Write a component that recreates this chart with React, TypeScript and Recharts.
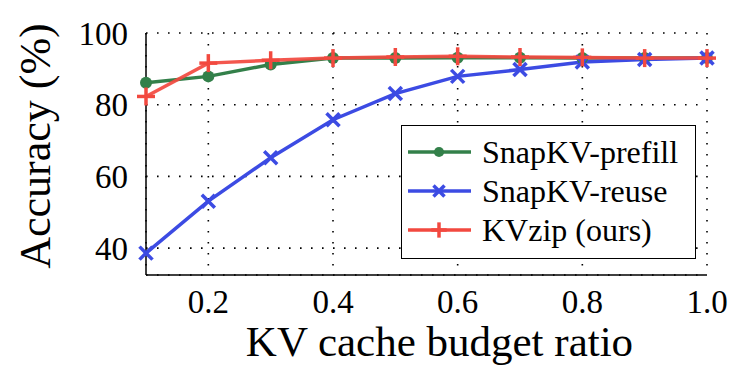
import { CartesianGrid, Line, LineChart, XAxis, YAxis } from 'recharts';

const budget = [0.1, 0.2, 0.3, 0.4, 0.5, 0.6, 0.7, 0.8, 0.9, 1.0];
const prefill = [86.1, 87.9, 91.2, 93.0, 93.0, 93.1, 93.1, 93.0, 93.0, 93.0];
const reuse = [38.6, 53.1, 65.2, 75.8, 83.1, 87.9, 89.8, 91.9, 92.6, 93.0];
const kvzip = [82.3, 91.6, 92.4, 93.0, 93.3, 93.5, 93.3, 93.2, 93.0, 93.0];

const xTicks = [0.2, 0.4, 0.6, 0.8, 1.0];
const xMinorTicks = [0.2, 0.3, 0.4, 0.5, 0.6, 0.7, 0.8, 0.9];
const yTicks = [40, 60, 80, 100];
const yMinorTicks = [40, 60, 80];

const FONT = 'Liberation Serif, Times New Roman, DejaVu Serif, serif';
const GREEN = '#33804a';
const BLUE = '#3c4be3';
const RED = '#f2493f';

const data = budget.map((b, i) => ({ b, prefill: prefill[i], reuse: reuse[i], kvzip: kvzip[i] }));

const series = [
  { key: 'prefill', name: 'SnapKV-prefill', color: GREEN, shape: 'circle' },
  { key: 'reuse', name: 'SnapKV-reuse', color: BLUE, shape: 'cross' },
  { key: 'kvzip', name: 'KVzip (ours)', color: RED, shape: 'plus' },
];

function Marker({ cx, cy, shape, color, s = 1 }: { cx: number; cy: number; shape: string; color: string; s?: number }) {
  if (cx == null || cy == null) return null;
  if (shape === 'circle') return <circle cx={cx} cy={cy} r={6 * s} fill={color} />;
  if (shape === 'cross') {
    const a = 6.5 * s;
    return (
      <g stroke={color} strokeWidth={3.5}>
        <line x1={cx - a} y1={cy - a} x2={cx + a} y2={cy + a} />
        <line x1={cx - a} y1={cy + a} x2={cx + a} y2={cy - a} />
      </g>
    );
  }
  const a = 9 * s;
  return (
    <g stroke={color} strokeWidth={3.5}>
      <line x1={cx - a} y1={cy} x2={cx + a} y2={cy} />
      <line x1={cx} y1={cy - a} x2={cx} y2={cy + a} />
    </g>
  );
}

function LegendBox() {
  return (
    <div
      style={{
        position: 'absolute',
        left: 401,
        top: 125,
        width: 295,
        height: 134,
        border: '1.5px solid #000',
        background: '#fff',
        fontFamily: FONT,
        fontSize: 32,
        boxSizing: 'border-box',
        paddingTop: 6,
      }}
    >
      {series.map((s) => (
        <div key={s.key} style={{ display: 'flex', alignItems: 'center', height: 39 }}>
          <svg width={80} height={30} style={{ flex: 'none' }}>
            <line x1={6} y1={15} x2={69} y2={15} stroke={s.color} strokeWidth={3.5} />
            <Marker cx={37} cy={15} shape={s.shape} color={s.color} s={0.85} />
          </svg>
          <span style={{ color: '#000', lineHeight: 1, fontFamily: FONT }}>{s.name}</span>
        </div>
      ))}
    </div>
  );
}

const noLabel = () => '';

export default function App() {
  return (
    <div style={{ position: 'fixed', left: 0, top: 0, width: 738, height: 370, background: '#fff', fontFamily: FONT }}>
      <LineChart width={738} height={370} data={data} margin={{ top: 33, right: 31, bottom: 0, left: 0 }}>
        <CartesianGrid stroke="#000" strokeWidth={1.6} strokeDasharray="1.6 9.4" />
        <XAxis
          xAxisId="minor"
          dataKey="b"
          type="number"
          domain={[0.1, 1.0]}
          ticks={xMinorTicks}
          tickFormatter={noLabel}
          height={0}
          mirror
          tickSize={6}
          axisLine={false}
          tickLine={{ stroke: '#777', strokeWidth: 1.5 }}
        />
        <XAxis
          dataKey="b"
          type="number"
          domain={[0.1, 1.0]}
          ticks={xTicks}
          tickFormatter={(v) => Number(v).toFixed(1)}
          height={95}
          tickLine={false}
          tickSize={0}
          tickMargin={15}
          axisLine={{ stroke: '#000', strokeWidth: 1.5 }}
          tick={{ fill: '#000', fontSize: 33, fontFamily: FONT }}
          label={{
            content: ({ viewBox }: any) => (
              <text
                x={viewBox.x + viewBox.width / 2 + 13}
                y={viewBox.y + 81}
                textAnchor="middle"
                fontFamily={FONT}
                fontSize={43}
                fill="#000"
              >
                KV cache budget ratio
              </text>
            ),
          }}
        />
        <XAxis xAxisId="top" orientation="top" type="number" domain={[0.1, 1.0]} dataKey="b" tick={false} tickLine={false} height={0} axisLine={{ stroke: '#000', strokeWidth: 1.5 }} />
        <YAxis
          yAxisId="minor"
          type="number"
          domain={[32.5, 100]}
          ticks={yMinorTicks}
          tickFormatter={noLabel}
          width={0}
          mirror
          tickSize={6}
          axisLine={false}
          tickLine={{ stroke: '#777', strokeWidth: 1.5 }}
        />
        <YAxis
          type="number"
          domain={[32.5, 100]}
          ticks={yTicks}
          width={146}
          tickLine={false}
          tickSize={0}
          tickMargin={18}
          axisLine={{ stroke: '#000', strokeWidth: 1.5 }}
          tick={{ fill: '#000', fontSize: 33, fontFamily: FONT }}
          label={{
            content: () => (
              <text x={50} y={146} transform="rotate(-90, 50, 146)" textAnchor="middle" fontFamily={FONT} fontSize={44} fill="#000">
                Accuracy (%)
              </text>
            ),
          }}
        />
        <YAxis yAxisId="right" orientation="right" type="number" domain={[32.5, 100]} tick={false} tickLine={false} width={0} axisLine={{ stroke: '#000', strokeWidth: 1.5 }} />
        {series.map((s) => (
          <Line
            key={s.key}
            dataKey={s.key}
            name={s.name}
            type="linear"
            stroke={s.color}
            strokeWidth={3.5}
            strokeOpacity={s.key === 'kvzip' ? 0.92 : 1}
            isAnimationActive={false}
            dot={(p: any) => <Marker key={p.index} cx={p.cx} cy={p.cy} shape={s.shape} color={s.color} />}
            activeDot={false}
          />
        ))}
      </LineChart>
      <LegendBox />
    </div>
  );
}
